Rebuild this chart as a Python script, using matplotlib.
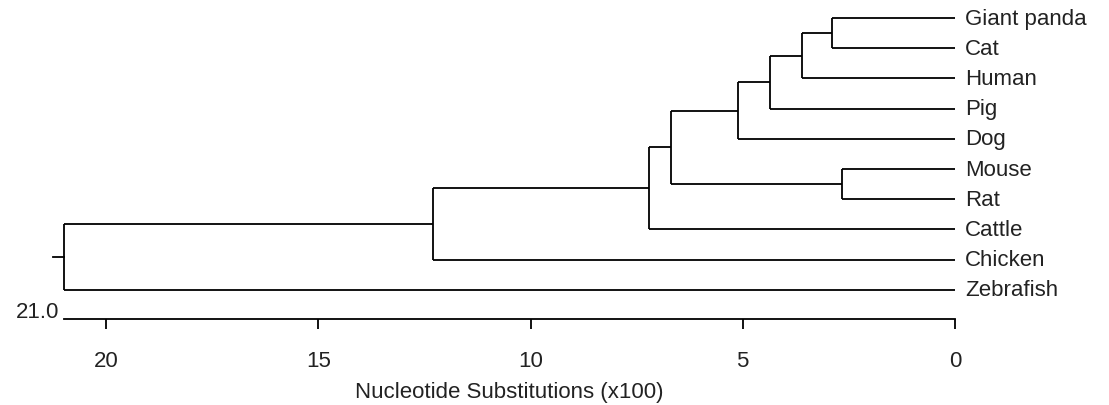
import matplotlib.pyplot as plt
from matplotlib.transforms import offset_copy

plt.rcParams['font.family'] = ['Liberation Sans', 'DejaVu Sans']

leaves = ["Giant panda", "Cat", "Human", "Pig", "Dog",
          "Mouse", "Rat", "Cattle", "Chicken", "Zebrafish"]
# merges: children are leaf index (0..9) or 10+k for earlier merge k
merge_a = [0, 10, 11, 12, 5, 13, 15, 16, 17]
merge_b = [1, 2, 3, 4, 6, 14, 7, 8, 9]
merge_h = [2.9, 3.6, 4.35, 5.1, 2.65, 6.7, 7.2, 12.3, 21.0]
ticks = [20, 15, 10, 5, 0]

fig = plt.figure(figsize=(11.09, 4.06), dpi=100)
ax = fig.add_axes([0, 0, 1, 1])
ax.set_xlim(22.5, -3.63)
ax.set_ylim(12.81, -0.63)

lw = 1.3
fs = 16
pos = {}
hgt = {}
for i in range(len(leaves)):
    pos[i] = i
    hgt[i] = 0.0
    ax.text(0, i, leaves[i], ha='left', va='center', fontsize=fs, color='#222222',
            transform=offset_copy(ax.transData, fig=fig, x=10, y=0, units='dots'))

for k in range(len(merge_h)):
    a, b, h = merge_a[k], merge_b[k], merge_h[k]
    ax.plot([hgt[a], h], [pos[a], pos[a]], color='black', lw=lw, solid_capstyle='butt')
    ax.plot([hgt[b], h], [pos[b], pos[b]], color='black', lw=lw, solid_capstyle='butt')
    ax.plot([h, h], [pos[a], pos[b]], color='black', lw=lw, solid_capstyle='butt')
    pos[10 + k] = (pos[a] + pos[b]) / 2
    hgt[10 + k] = h

# root stub
root = 10 + len(merge_h) - 1
ax.plot([hgt[root], hgt[root] + 0.25], [pos[root], pos[root]], color='black', lw=lw)

# scale axis
for s in ['top', 'left', 'right']:
    ax.spines[s].set_visible(False)
ax.spines['bottom'].set_position(('data', 9.97))
ax.spines['bottom'].set_bounds(0, merge_h[-1])
ax.spines['bottom'].set_linewidth(lw)
ax.set_xticks(ticks)
ax.set_xticklabels([str(t) for t in ticks])
ax.tick_params(axis='x', direction='out', length=7.5, width=lw, pad=15,
               labelsize=fs, labelcolor='#222222')
ax.set_yticks([])

ax.text(merge_h[-1], 9.7, "%.1f" % merge_h[-1], ha='right', va='center', fontsize=fs,
        color='#222222', transform=offset_copy(ax.transData, fig=fig, x=-4, y=0, units='dots'))
ax.text(merge_h[-1] / 2, 12.35, "Nucleotide Substitutions (x100)", ha='center', va='center',
        fontsize=fs, color='#222222')

fig.savefig("out.png", dpi=100)
